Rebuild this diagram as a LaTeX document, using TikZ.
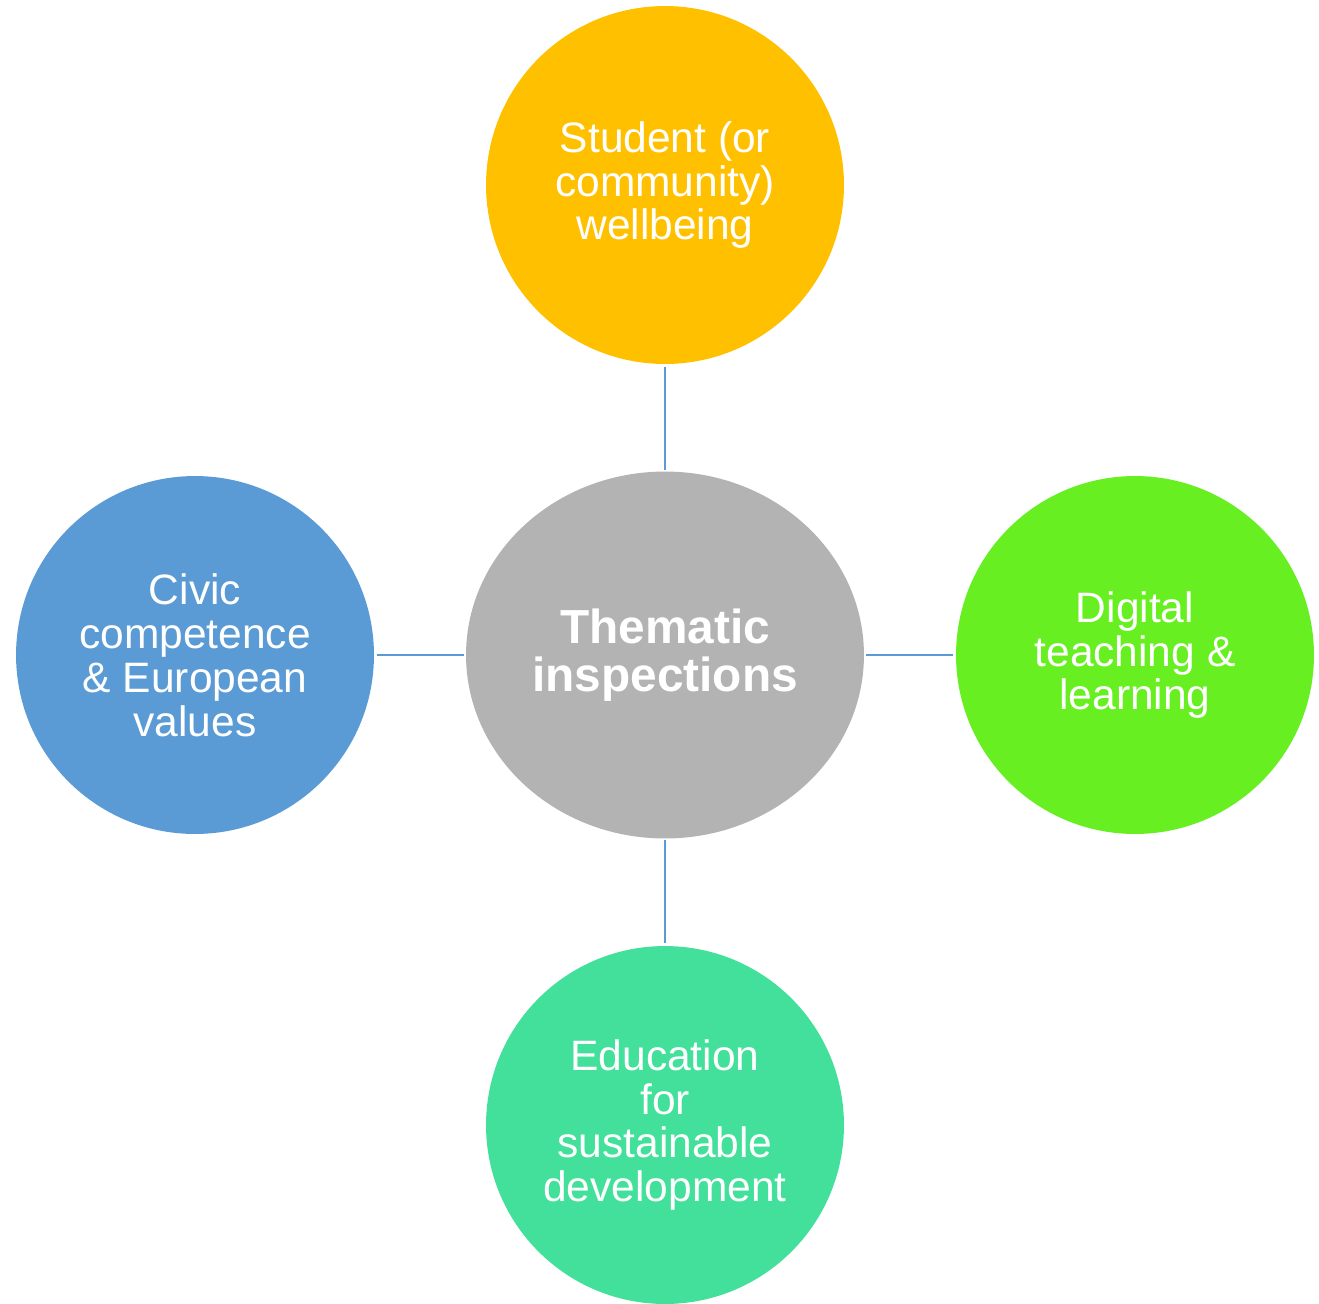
\documentclass[tikz,border=0pt]{standalone}
\usepackage{fontspec}
\setmainfont{Liberation Sans}
\usetikzlibrary{shapes.geometric}
\definecolor{studgold}{HTML}{FFC000}
\definecolor{civicblue}{HTML}{5B9BD5}
\definecolor{digigreen}{HTML}{67EF22}
\definecolor{edugreen}{HTML}{42E09A}
\definecolor{hubgrey}{HTML}{B3B3B3}
\definecolor{linkblue}{HTML}{5B9BD5}
\begin{document}
\begin{tikzpicture}[x=0.02cm, y=-0.02cm,
    topic/.style={circle, minimum size=7.16cm, inner sep=0pt, text=white,
        align=center, font=\fontsize{24.2}{25}\selectfont},
    hub/.style={ellipse, minimum width=7.96cm, minimum height=7.34cm,
        inner sep=0pt, fill=hubgrey, text=white, align=center,
        font=\fontsize{27.2}{27.4}\selectfont\bfseries},
    link/.style={draw=linkblue, line width=0.04cm, shorten <=0.06cm, shorten >=0.03cm}]
    \useasboundingbox (0,0) rectangle (1319,1303);

    % hub and the four themes
    \node[hub] (them) at (665,655) {Thematic\\inspections};
    \node[topic, fill=studgold] (stud) at (665,185) {Student (or\\community)\\wellbeing};
    \node[topic, fill=civicblue] (civic) at (195,655) {Civic\\competence\\\& European\\values};
    \node[topic, fill=digigreen] (digi) at (1135,655) {Digital\\teaching \&\\learning};
    \node[topic, fill=edugreen] (edu) at (665,1125) {Education\\for\\sustainable\\development};

    % links
    \draw[link] (stud) -- (them);
    \draw[link] (civic) -- (them);
    \draw[link] (digi) -- (them);
    \draw[link] (edu) -- (them);
\end{tikzpicture}
\end{document}
